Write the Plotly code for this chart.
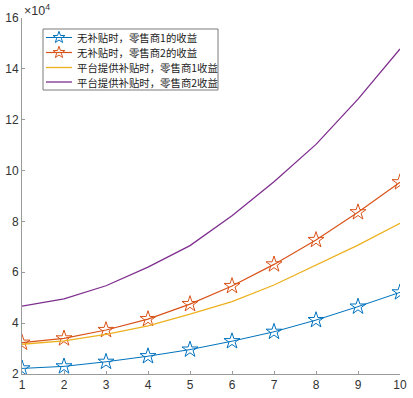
import math
import plotly.graph_objects as go

x = [1, 2, 3, 4, 5, 6, 7, 8, 9, 10]
# values in units of 10^4
r1_nosub = [2.22, 2.30, 2.48, 2.70, 2.96, 3.29, 3.66, 4.12, 4.65, 5.21]
r2_nosub = [3.23, 3.40, 3.73, 4.16, 4.75, 5.46, 6.31, 7.27, 8.36, 9.54]
r1_sub = [3.17, 3.30, 3.56, 3.89, 4.35, 4.85, 5.50, 6.29, 7.07, 7.93]
r2_sub = [4.67, 4.95, 5.47, 6.20, 7.05, 8.22, 9.56, 11.03, 12.81, 14.78]
names = ["无补贴时，零售商1的收益", "无补贴时，零售商2的收益",
         "平台提供补贴时，零售商1收益", "平台提供补贴时，零售商2收益"]
colors = ["#0072BD", "#D95319", "#EDB120", "#7E2F8E"]
line_widths = [1.0, 1.2, 1.3, 1.3]
has_star = [True, True, False, False]
yticks = [2, 4, 6, 8, 10, 12, 14, 16]

fig = go.Figure()
series = [r1_nosub, r2_nosub, r1_sub, r2_sub]
for i, ys in enumerate(series):
    if has_star[i]:
        fig.add_trace(go.Scatter(x=x, y=ys, name=names[i], mode="lines+markers", showlegend=False,
                                 line=dict(color=colors[i], width=line_widths[i]),
                                 marker=dict(symbol="star-open", size=12, color=colors[i],
                                             line=dict(width=1))))
    else:
        fig.add_trace(go.Scatter(x=x, y=ys, name=names[i], mode="lines", showlegend=False,
                                 line=dict(color=colors[i], width=line_widths[i])))

axis_common = dict(showline=True, linecolor="#9a9a9a", linewidth=1, mirror=False,
                   ticks="inside", ticklen=3, tickcolor="#9a9a9a", showgrid=False,
                   zeroline=False, automargin=False,
                   tickfont=dict(family="Liberation Sans, Arial", size=12, color="#333333"))
fig.update_xaxes(range=[1, 10], tickvals=x, **axis_common)
fig.update_yaxes(range=[2, 16], tickvals=yticks, **axis_common)

# ---- legend drawn in pixel offsets from the plot's top-left corner (paper 0,1) ----
shapes = []
annotations = []
box_l, box_r, box_t, box_b = 21, 196, 11, 72  # pixel offsets (right, down)


def pshape(**kw):
    d = dict(xref="paper", yref="paper", xsizemode="pixel", ysizemode="pixel",
             xanchor=0, yanchor=1)
    d.update(kw)
    return d


shapes.append(pshape(type="rect", x0=box_l, x1=box_r, y0=-box_t, y1=-box_b,
                     line=dict(color="#7a7a7a", width=1), fillcolor="white", layer="above"))
row_y = [19.5, 34.5, 49.5, 64]
for i in range(4):
    yy = -row_y[i]
    shapes.append(pshape(type="line", x0=24, x1=50, y0=yy, y1=yy,
                         line=dict(color=colors[i], width=line_widths[i]), layer="above"))
    if has_star[i]:
        pts = []
        for k in range(10):
            ang = math.radians(90 + k * 36)
            r = 6.2 if k % 2 == 0 else 2.5
            pts.append((37 + r * math.cos(ang), yy + r * math.sin(ang)))
        path = "M " + " L ".join(f"{px:.2f},{py:.2f}" for px, py in pts) + " Z"
        shapes.append(pshape(type="path", path=path, line=dict(color=colors[i], width=1),
                             fillcolor="rgba(0,0,0,0)", layer="above"))
    annotations.append(dict(x=0, y=1, xref="paper", yref="paper", xanchor="left",
                            yanchor="middle", showarrow=False, text=names[i],
                            xshift=53, yshift=yy,
                            font=dict(family="Noto Sans CJK SC", size=10.4, color="#1a1a1a")))

annotations.append(dict(x=0, y=1, xref="paper", yref="paper", xanchor="left", yanchor="bottom",
                        text="×10<sup>4</sup>", showarrow=False, yshift=-2,
                        font=dict(family="Liberation Sans, Arial", size=12.5, color="#333333")))

fig.update_layout(
    width=413, height=398,
    margin=dict(l=22, r=13, t=18, b=24),
    plot_bgcolor="white", paper_bgcolor="white",
    showlegend=False,
    shapes=shapes,
    annotations=annotations,
)

fig.write_html("out.html", config={"displayModeBar": False},
               post_script="document.body.style.margin='0';")
